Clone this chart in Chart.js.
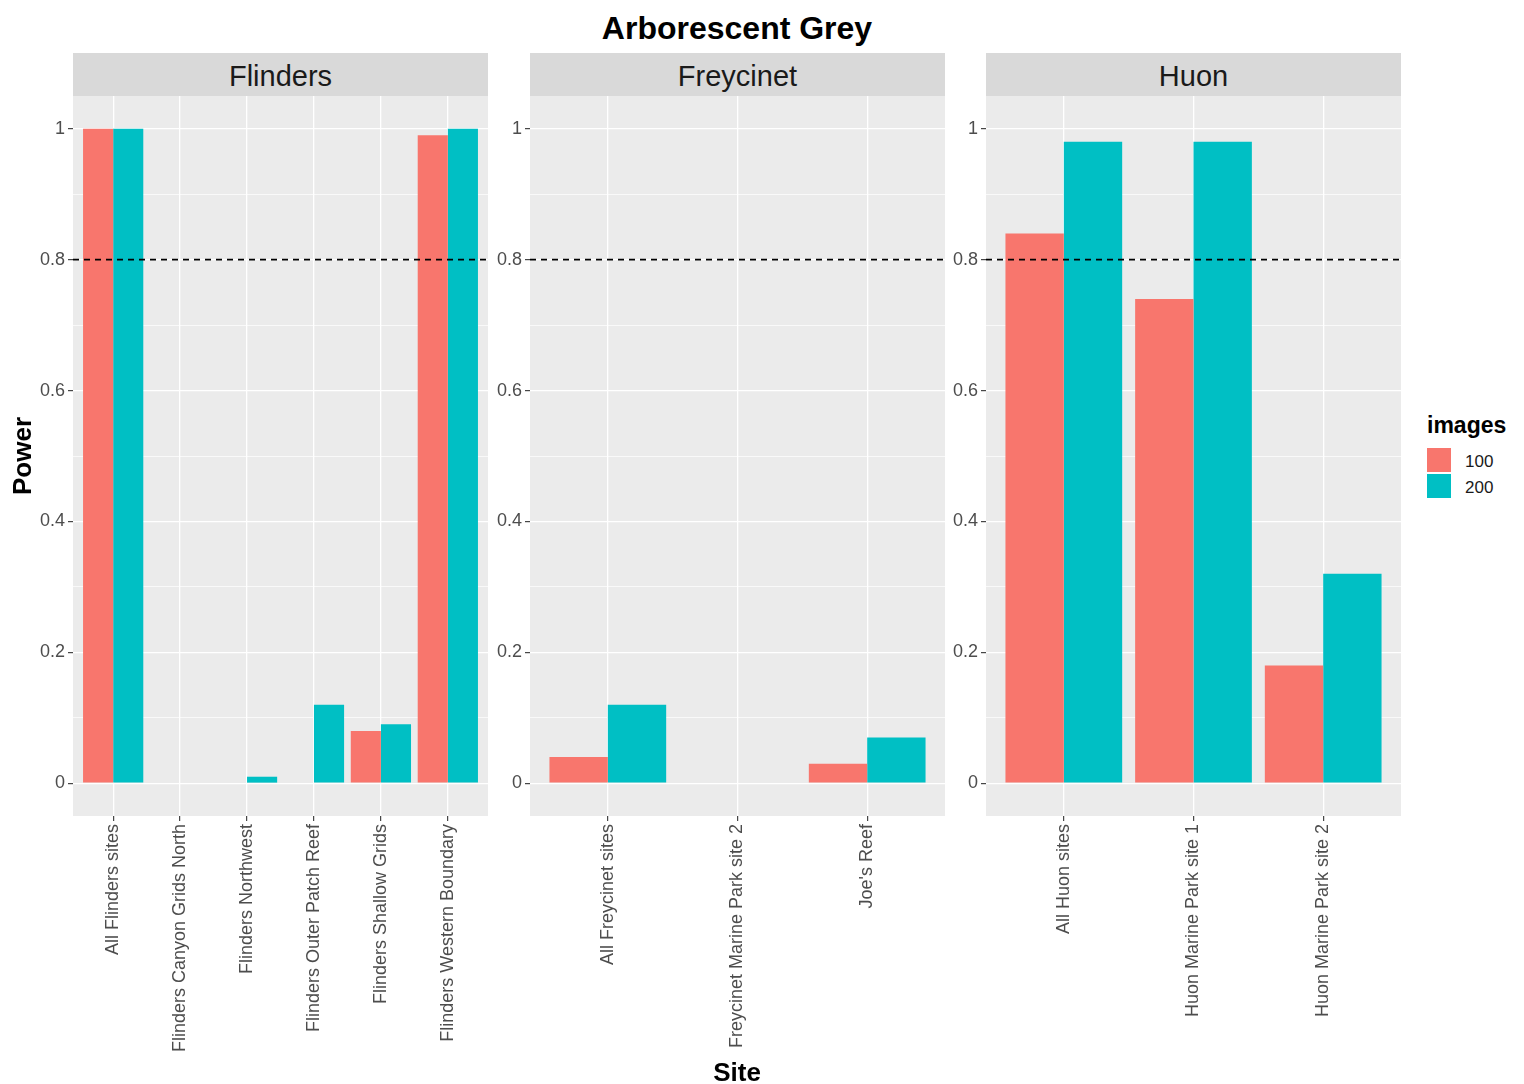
<!DOCTYPE html>
<html>
<head>
<meta charset="utf-8">
<title>Arborescent Grey</title>
<script src="https://cdn.jsdelivr.net/npm/chart.js@4.4.1/dist/chart.umd.min.js"></script>
<style>
  html, body { margin: 0; padding: 0; background: #ffffff; }
  body {
    width: 1524px; height: 1084px; position: relative; overflow: hidden;
    font-family: "Liberation Sans", Arial, sans-serif;
  }
  .txt { position: absolute; white-space: nowrap; }
  #title { left: 437px; width: 600px; top: 12px; font-size: 32px; line-height: 32px;
           font-weight: bold; text-align: center; color: #000; }
  .strip { position: absolute; top: 53px; width: 415px; height: 43px; background: #d9d9d9; }
  .stripText { position: absolute; width: 415px; top: 62px; font-size: 29px; line-height: 29px;
               text-align: center; color: #1a1a1a; }
  #xTitle { left: 637px; width: 200px; top: 1059px; font-size: 26px; line-height: 26px;
            font-weight: bold; text-align: center; color: #000; }
  #yTitle { left: -78px; width: 200px; top: 443px; font-size: 26px; line-height: 26px;
            font-weight: bold; text-align: center; color: #000; transform: rotate(-90deg); }
  #legendTitle { left: 1427px; top: 414px; font-size: 23px; line-height: 23px; font-weight: bold; color: #000; }
  .key { position: absolute; left: 1427px; width: 24px; height: 24px; }
  .keyLabel { position: absolute; left: 1465px; font-size: 17px; line-height: 17px; color: #1a1a1a; }
  canvas { position: absolute; top: 96px; }
</style>
</head>
<body>
<div id="title" class="txt">Arborescent Grey</div>
<div id="strips"></div>
<div id="panels"></div>
<div id="xTitle" class="txt">Site</div>
<div id="yTitle" class="txt">Power</div>
<div id="legendTitle" class="txt">images</div>
<div id="legend"></div>

<script>
// ---- data -------------------------------------------------------------
const facetNames = ['Flinders', 'Freycinet', 'Huon'];

const flindersSites = ['All Flinders sites', 'Flinders Canyon Grids North', 'Flinders Northwest',
                       'Flinders Outer Patch Reef', 'Flinders Shallow Grids', 'Flinders Western Boundary'];
const flinders100 = [1.00, 0, 0, 0, 0.08, 0.99];
const flinders200 = [1.00, 0, 0.01, 0.12, 0.09, 1.00];

const freycinetSites = ['All Freycinet sites', 'Freycinet Marine Park site 2', "Joe's Reef"];
const freycinet100 = [0.04, 0, 0.03];
const freycinet200 = [0.12, 0, 0.07];

const huonSites = ['All Huon sites', 'Huon Marine Park site 1', 'Huon Marine Park site 2'];
const huon100 = [0.84, 0.74, 0.18];
const huon200 = [0.98, 0.98, 0.32];

const imageGroups = ['100', '200'];
const groupColors = ['#F8766D', '#00BFC4'];

const yTickValues = [0, 0.2, 0.4, 0.6, 0.8, 1];
const yMinorValues = [0.1, 0.3, 0.5, 0.7, 0.9];
const powerThreshold = 0.8;

// ---- layout -----------------------------------------------------------
const FONT = '"Liberation Sans", Arial, sans-serif';
const panelLefts = [73, 530, 986];
const panelWidth = 415;
const axisWidth = 60;          // room for the y tick labels left of each panel
const canvasHeight = 988;      // from the top of the panel to the bottom of the page
const plotHeight = 720;

const facets = [
  { name: facetNames[0], sites: flindersSites, series: [flinders100, flinders200] },
  { name: facetNames[1], sites: freycinetSites, series: [freycinet100, freycinet200] },
  { name: facetNames[2], sites: huonSites, series: [huon100, huon200] }
];

// strip headers
const strips = document.getElementById('strips');
facets.forEach((f, i) => {
  const s = document.createElement('div');
  s.className = 'strip';
  s.style.left = panelLefts[i] + 'px';
  strips.appendChild(s);
  const t = document.createElement('div');
  t.className = 'stripText txt';
  t.style.left = panelLefts[i] + 'px';
  t.textContent = f.name;
  strips.appendChild(t);
});

// legend
const legend = document.getElementById('legend');
imageGroups.forEach((g, i) => {
  const k = document.createElement('div');
  k.className = 'key';
  k.style.top = (448 + i * 26) + 'px';
  k.style.background = groupColors[i];
  legend.appendChild(k);
  const l = document.createElement('div');
  l.className = 'keyLabel txt';
  l.style.top = (453 + i * 26) + 'px';
  l.textContent = g;
  legend.appendChild(l);
});

const isMajor = v => yTickValues.some(t => Math.abs(t - v) < 1e-9);

// grey panel background
const panelBackground = {
  id: 'panelBackground',
  beforeDraw(chart) {
    const { ctx, chartArea: a } = chart;
    ctx.save();
    ctx.fillStyle = '#EBEBEB';
    ctx.fillRect(a.left, a.top, a.right - a.left, a.bottom - a.top);
    ctx.restore();
  }
};

// dashed reference line at the power threshold
const thresholdLine = {
  id: 'thresholdLine',
  afterDatasetsDraw(chart) {
    const { ctx, chartArea: a, scales } = chart;
    const y = scales.y.getPixelForValue(powerThreshold);
    ctx.save();
    ctx.strokeStyle = '#000';
    ctx.lineWidth = 1.6;
    ctx.setLineDash([6, 5]);
    ctx.beginPath();
    ctx.moveTo(a.left, y);
    ctx.lineTo(a.right, y);
    ctx.stroke();
    ctx.restore();
  }
};

const panels = document.getElementById('panels');
facets.forEach((f, i) => {
  const canvas = document.createElement('canvas');
  canvas.width = axisWidth + panelWidth;
  canvas.height = canvasHeight;
  canvas.style.left = (panelLefts[i] - axisWidth) + 'px';
  panels.appendChild(canvas);

  const n = f.sites.length;
  new Chart(canvas.getContext('2d'), {
    type: 'bar',
    data: {
      datasets: imageGroups.map((g, k) => ({
        label: g,
        data: f.series[k].map((v, j) => ({ x: j + 1, y: v })),
        backgroundColor: groupColors[k],
        borderWidth: 0,
        categoryPercentage: 0.9,
        barPercentage: 1.0
      }))
    },
    options: {
      responsive: false,
      animation: false,
      devicePixelRatio: 1,
      layout: { padding: 0 },
      plugins: { legend: { display: false }, tooltip: { enabled: false } },
      scales: {
        x: {
          type: 'linear',
          min: 0.4,
          max: n + 0.6,
          offset: false,
          afterBuildTicks: s => { s.ticks = f.sites.map((_, j) => ({ value: j + 1 })); },
          afterFit: s => { s.height = canvasHeight - plotHeight; s.paddingLeft = 0; s.paddingRight = 0; },
          ticks: {
            autoSkip: false,
            minRotation: 90,
            maxRotation: 90,
            padding: 3,
            color: '#4d4d4d',
            font: { family: FONT, size: 18 },
            callback: v => f.sites[Math.round(v) - 1]
          },
          grid: {
            offset: false,
            color: '#ffffff',
            lineWidth: 1.3,
            drawTicks: true,
            tickLength: 5,
            tickColor: '#333333',
            tickWidth: 1.1
          },
          border: { display: false }
        },
        y: {
          min: -0.05,
          max: 1.05,
          afterBuildTicks: s => {
            s.ticks = yTickValues.concat(yMinorValues).sort((a, b) => a - b).map(v => ({ value: v }));
          },
          afterFit: s => { s.width = axisWidth; s.paddingTop = 0; s.paddingBottom = 0; },
          ticks: {
            padding: 3,
            color: '#4d4d4d',
            font: { family: FONT, size: 18 },
            callback: v => isMajor(v) ? String(Math.round(v * 10) / 10) : ''
          },
          grid: {
            color: '#ffffff',
            lineWidth: ctx => (ctx.tick && isMajor(ctx.tick.value)) ? 1.3 : 0.7,
            tickLength: 5,
            tickWidth: 1.1,
            tickColor: ctx => (ctx.tick && isMajor(ctx.tick.value)) ? '#333333' : 'rgba(0,0,0,0)'
          },
          border: { display: false }
        }
      }
    },
    plugins: [panelBackground, thresholdLine]
  });
});
</script>
</body>
</html>
